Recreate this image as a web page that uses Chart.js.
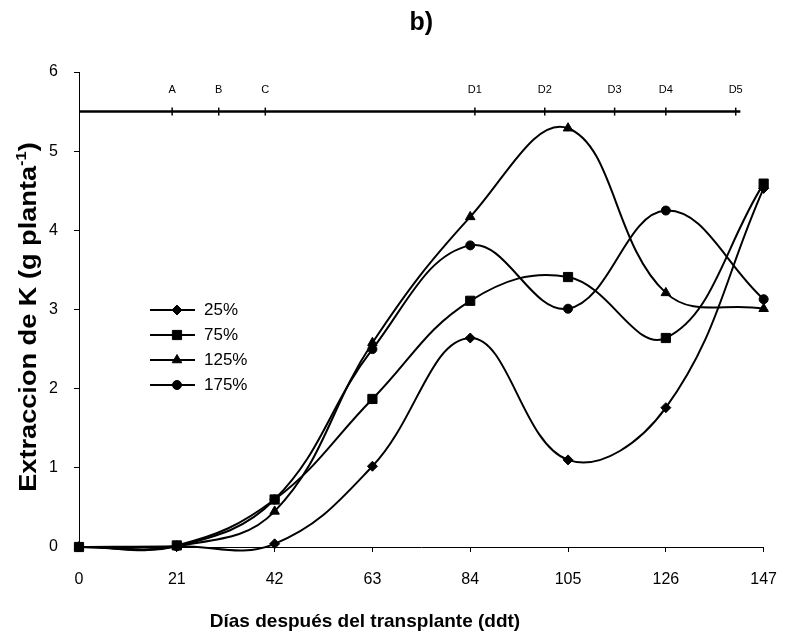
<!DOCTYPE html>
<html>
<head>
<meta charset="utf-8">
<script src="https://cdn.jsdelivr.net/npm/chart.js"></script>
<style>
  html, body { margin: 0; padding: 0; background: #fff; }
</style>
</head>
<body>
<canvas id="chart" width="795" height="644"></canvas>
<script>
// days after transplant and K extraction per treatment
const days = [0, 21, 42, 63, 84, 105, 126, 147]
const k25 = [0, 0.01, 0.04, 1.02, 2.64, 1.10, 1.76, 4.53]
const k75 = [0, 0.02, 0.60, 1.87, 3.11, 3.41, 2.64, 4.59]
const k125 = [0, 0.01, 0.45, 2.58, 4.17, 5.29, 3.21, 3.01]
const k175 = [0, 0.01, 0.60, 2.50, 3.81, 3.01, 4.25, 3.13]
const seriesLabels = ['25%', '75%', '125%', '175%']
const seriesMarkers = ['rectRot', 'rect', 'triangle', 'circle']
const markerSizes = [5, 6.5, 5.5, 4.5]

// phenological stages drawn as a timeline in the top of the plot
const stageNames = ['A', 'B', 'C', 'D1', 'D2', 'D3', 'D4', 'D5']
const stageDays = [20, 30, 40, 85, 100, 115, 126, 141]
const stageLevel = 5.5
const timelineEnd = 142

const xTicks = [0, 21, 42, 63, 84, 105, 126, 147]
const yTicks = [0, 1, 2, 3, 4, 5, 6]

const chartTitle = 'b)'
const xTitle = 'Días después del transplante (ddt)'
const yTitle = 'Extraccion de K (g planta'
const yTitleSup = '-1'
const yTitleEnd = ')'

const FONT = 'Arial, "Liberation Sans", sans-serif'

const toPoints = (values) => values.map((v, i) => ({x: days[i], y: v}))

const datasets = [k25, k75, k125, k175].map((values, i) => ({
    label: seriesLabels[i],
    data: toPoints(values),
    borderColor: '#000',
    backgroundColor: '#000',
    borderWidth: 2,
    tension: 0.4,
    pointStyle: seriesMarkers[i],
    pointRadius: markerSizes[i],
    pointBackgroundColor: '#000',
    pointBorderColor: '#000',
    pointBorderWidth: 1,
    clip: false,
}))

const timelineDays = [0, ...stageDays, timelineEnd]
datasets.push({
    label: 'stages',
    data: timelineDays.map(d => ({x: d, y: stageLevel})),
    borderColor: '#000',
    borderWidth: 2.5,
    tension: 0,
    pointStyle: 'line',
    rotation: 90,
    pointRadius: timelineDays.map((d, i) => (i === 0 || i === timelineDays.length - 1) ? 0 : 4),
    pointBorderColor: '#000',
    pointBorderWidth: 1.5,
    clip: false,
})

function drawMarker(ctx, style, radius, x, y) {
    if (Chart.helpers && Chart.helpers.drawPoint) {
        Chart.helpers.drawPoint(ctx, {pointStyle: style, radius: radius, rotation: 0, borderWidth: 1}, x, y)
        return
    }
    ctx.beginPath()
    ctx.arc(x, y, radius, 0, Math.PI * 2)
    ctx.fill()
}

const textPlugin = {
    id: 'texts',
    afterDraw(chart) {
        const {ctx, chartArea, scales} = chart
        const x = scales.x
        const y = scales.y
        ctx.save()
        ctx.fillStyle = '#000'
        ctx.strokeStyle = '#000'

        // chart title
        ctx.font = 'bold 25px ' + FONT
        ctx.textAlign = 'center'
        ctx.textBaseline = 'middle'
        ctx.fillText(chartTitle, (chartArea.left + chartArea.right) / 2, 23)

        // stage labels above the timeline
        ctx.font = '11px ' + FONT
        stageNames.forEach((name, i) => {
            ctx.fillText(name, x.getPixelForValue(stageDays[i]), y.getPixelForValue(stageLevel) - 22)
        })

        // x axis title
        ctx.font = 'bold 19px ' + FONT
        ctx.fillText(xTitle, 365, 622)

        // y axis title with superscript (stretched along its length like the original)
        ctx.save()
        ctx.translate(30, 317)
        ctx.rotate(-Math.PI / 2)
        ctx.scale(1.18, 1)
        ctx.textAlign = 'left'
        ctx.font = 'bold 23px ' + FONT
        const wMain = ctx.measureText(yTitle).width
        const wEnd = ctx.measureText(yTitleEnd).width
        ctx.font = 'bold 14px ' + FONT
        const wSup = ctx.measureText(yTitleSup).width
        let pos = -(wMain + wSup + wEnd) / 2
        ctx.font = 'bold 23px ' + FONT
        ctx.fillText(yTitle, pos, 0)
        pos += wMain
        ctx.font = 'bold 14px ' + FONT
        ctx.fillText(yTitleSup, pos, -8)
        pos += wSup
        ctx.font = 'bold 23px ' + FONT
        ctx.fillText(yTitleEnd, pos, 0)
        ctx.restore()

        // legend inside the plot
        ctx.font = '17px ' + FONT
        ctx.textAlign = 'left'
        seriesLabels.forEach((label, i) => {
            const rowY = 310 + i * 25
            ctx.lineWidth = 2
            ctx.beginPath()
            ctx.moveTo(150, rowY)
            ctx.lineTo(195, rowY)
            ctx.stroke()
            ctx.lineWidth = 1
            drawMarker(ctx, seriesMarkers[i], markerSizes[i], 177, rowY)
            ctx.fillText(label, 204, rowY)
        })
        ctx.restore()
    }
}

new Chart(document.getElementById('chart'), {
    type: 'line',
    data: {datasets: datasets},
    plugins: [textPlugin],
    options: {
        responsive: false,
        animation: false,
        layout: {padding: {left: 0, right: 26, top: 72, bottom: 0}},
        elements: {line: {capBezierPoints: false}},
        plugins: {legend: {display: false}, tooltip: {enabled: false}},
        scales: {
            x: {
                type: 'linear',
                min: 0,
                max: 147,
                afterFit: (scale) => { scale.height = 97 },
                afterBuildTicks: (scale) => { scale.ticks = xTicks.map(v => ({value: v})) },
                ticks: {color: '#000', padding: 18, font: {size: 16, family: FONT}},
                grid: {drawOnChartArea: false, drawTicks: true, tickLength: 5, color: '#000'},
                border: {display: true, color: '#000', width: 1},
            },
            y: {
                min: 0,
                max: 6,
                afterFit: (scale) => { scale.width = 79 },
                afterBuildTicks: (scale) => { scale.ticks = yTicks.map(v => ({value: v})) },
                ticks: {color: '#000', padding: 16, font: {size: 16, family: FONT}},
                grid: {drawOnChartArea: false, drawTicks: true, tickLength: 5, color: '#000'},
                border: {display: true, color: '#000', width: 1},
            }
        }
    }
})
</script>
</body>
</html>
